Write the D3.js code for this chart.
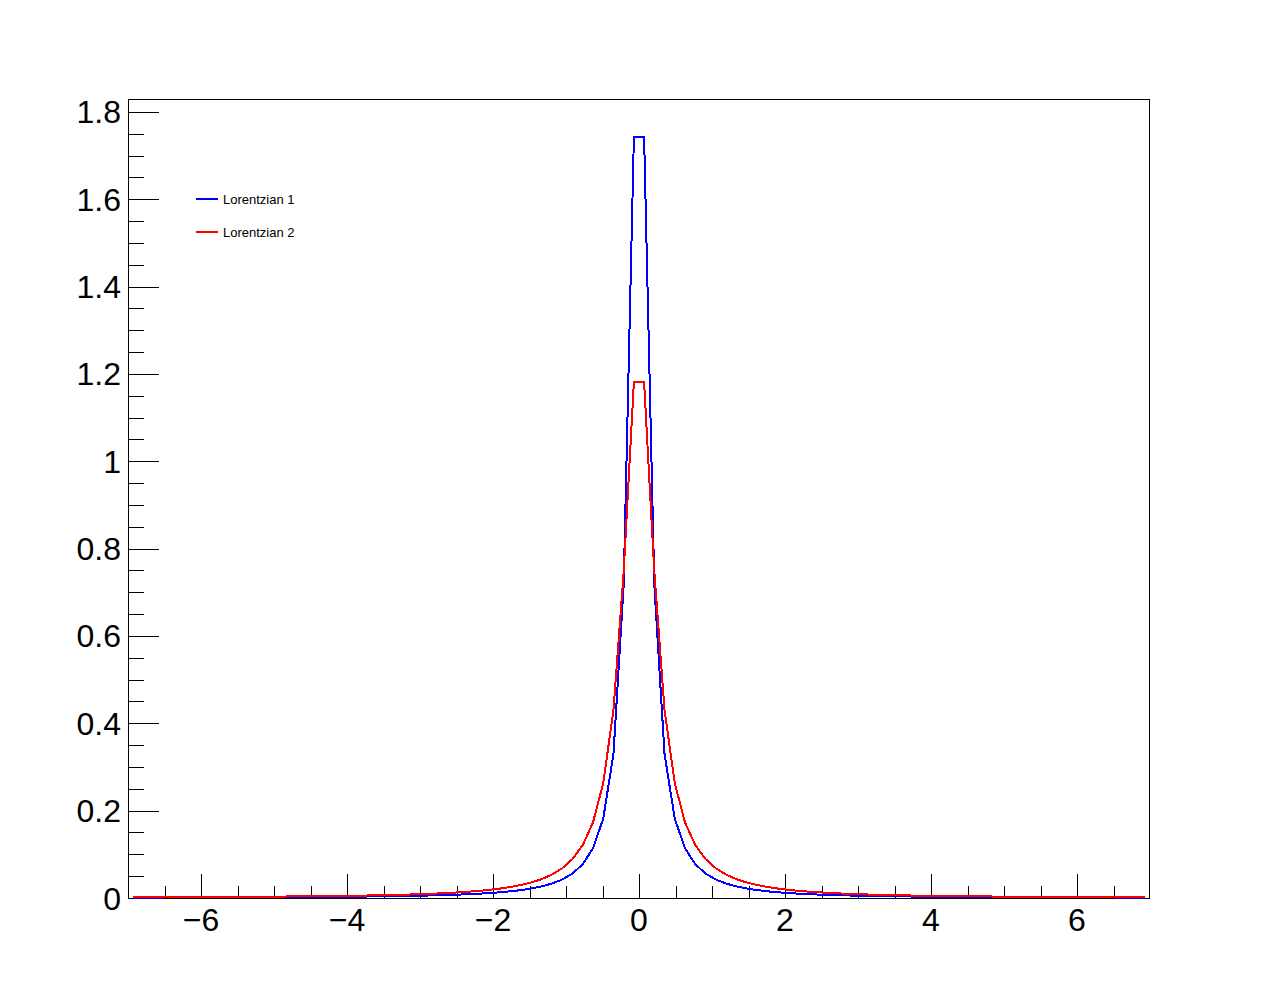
<!DOCTYPE html>
<html>
<head>
<meta charset="utf-8">
<script src="https://cdn.jsdelivr.net/npm/d3@7"></script>
<style>
  html, body { margin: 0; padding: 0; background: #fff; }
  svg { display: block; }
  text { font-family: "Liberation Sans", Arial, Helvetica, sans-serif; fill: #000; }
</style>
</head>
<body>
<script>
// ---- data ----
const xValues = [
  -6.93,-6.79,-6.65,-6.51,-6.37,-6.23,-6.09,-5.95,-5.81,-5.67,
  -5.53,-5.39,-5.25,-5.11,-4.97,-4.83,-4.69,-4.55,-4.41,-4.27,
  -4.13,-3.99,-3.85,-3.71,-3.57,-3.43,-3.29,-3.15,-3.01,-2.87,
  -2.73,-2.59,-2.45,-2.31,-2.17,-2.03,-1.89,-1.75,-1.61,-1.47,
  -1.33,-1.19,-1.05,-0.91,-0.77,-0.63,-0.49,-0.35,-0.21,-0.07,
  0.07,0.21,0.35,0.49,0.63,0.77,0.91,1.05,1.19,1.33,
  1.47,1.61,1.75,1.89,2.03,2.17,2.31,2.45,2.59,2.73,
  2.87,3.01,3.15,3.29,3.43,3.57,3.71,3.85,3.99,4.13,
  4.27,4.41,4.55,4.69,4.83,4.97,5.11,5.25,5.39,5.53,
  5.67,5.81,5.95,6.09,6.23,6.37,6.51,6.65,6.79,6.93
];
const lorentzian1 = [
  0.00099,0.00104,0.00108,0.00113,0.00118,0.00123,0.00129,0.00135,0.00141,0.00148,
  0.00156,0.00164,0.00173,0.00183,0.00193,0.00204,0.00217,0.00230,0.00245,0.00262,
  0.00280,0.00299,0.00322,0.00346,0.00374,0.00405,0.00440,0.00480,0.00526,0.00578,
  0.00639,0.00709,0.00792,0.00891,0.01009,0.01152,0.01328,0.01548,0.01826,0.02187,
  0.02665,0.0332,0.0424,0.0561,0.0776,0.1138,0.1818,0.3293,0.7169,1.7426,
  1.7426,0.7169,0.3293,0.1818,0.1138,0.0776,0.0561,0.0424,0.0332,0.02665,
  0.02187,0.01826,0.01548,0.01328,0.01152,0.01009,0.00891,0.00792,0.00709,0.00639,
  0.00578,0.00526,0.00480,0.00440,0.00405,0.00374,0.00346,0.00322,0.00299,0.00280,
  0.00262,0.00245,0.00230,0.00217,0.00204,0.00193,0.00183,0.00173,0.00164,0.00156,
  0.00148,0.00141,0.00135,0.00129,0.00123,0.00118,0.00113,0.00108,0.00104,0.00099
];
const lorentzian2 = [
  0.00165,0.00172,0.00180,0.00187,0.00196,0.00205,0.00214,0.00224,0.00235,0.00247,
  0.00260,0.00273,0.00288,0.00304,0.00321,0.00340,0.00361,0.00383,0.00408,0.00435,
  0.00465,0.00498,0.00535,0.00576,0.00621,0.00673,0.00731,0.00797,0.00872,0.00959,
  0.01059,0.01175,0.01312,0.01474,0.01668,0.01902,0.02189,0.02546,0.02998,0.03579,
  0.04345,0.0538,0.0683,0.0894,0.1214,0.1732,0.2630,0.4301,0.7465,1.1807,
  1.1807,0.7465,0.4301,0.2630,0.1732,0.1214,0.0894,0.0683,0.0538,0.04345,
  0.03579,0.02998,0.02546,0.02189,0.01902,0.01668,0.01474,0.01312,0.01175,0.01059,
  0.00959,0.00872,0.00797,0.00731,0.00673,0.00621,0.00576,0.00535,0.00498,0.00465,
  0.00435,0.00408,0.00383,0.00361,0.00340,0.00321,0.00304,0.00288,0.00273,0.00260,
  0.00247,0.00235,0.00224,0.00214,0.00205,0.00196,0.00187,0.00180,0.00172,0.00165
];
const seriesNames = ["Lorentzian 1", "Lorentzian 2"];
const seriesColors = ["#0000ff", "#ff0000"];
const xTickValues = [-6, -4, -2, 0, 2, 4, 6];
const xTickLabels = ["\u22126", "\u22124", "\u22122", "0", "2", "4", "6"];
const yTickValues = [0, 0.2, 0.4, 0.6, 0.8, 1, 1.2, 1.4, 1.6, 1.8];
const yTickLabels = ["0", "0.2", "0.4", "0.6", "0.8", "1", "1.2", "1.4", "1.6", "1.8"];
const xDomain = [-7, 7];

(function () {
  // ---- layout ----
  const W = 1278, H = 998;
  const fLeft = 128, fRight = 1150, fTop = 99, fBottom = 898;

  const svg = d3.select("body").append("svg").attr("width", W).attr("height", H);

  const yMax = d3.max(lorentzian1.concat(lorentzian2)) * 1.05;
  const x = d3.scaleLinear().domain(xDomain).range([fLeft, fRight]);
  const y = d3.scaleLinear().domain([0, yMax]).range([fBottom, fTop]);

  // frame
  svg.append("rect")
    .attr("x", fLeft + 0.5).attr("y", fTop + 0.5)
    .attr("width", fRight - fLeft - 1).attr("height", fBottom - fTop)
    .attr("fill", "none").attr("stroke", "#000").attr("stroke-width", 1)
    .attr("shape-rendering", "crispEdges");

  // x axis ticks
  const xMinor = d3.range(-13, 14).map(d => d * 0.5)
    .filter(d => d > -7 && d < 7 && Math.abs(d % 2) > 1e-9);
  const xAxis = svg.append("g").attr("shape-rendering", "crispEdges");
  xAxis.selectAll("line.maj").data(xTickValues).join("line").attr("class", "maj")
    .attr("x1", d => Math.round(x(d)) + 0.5).attr("x2", d => Math.round(x(d)) + 0.5)
    .attr("y1", fBottom).attr("y2", fBottom - 24)
    .attr("stroke", "#000");
  xAxis.selectAll("line.min").data(xMinor).join("line").attr("class", "min")
    .attr("x1", d => Math.round(x(d)) + 0.5).attr("x2", d => Math.round(x(d)) + 0.5)
    .attr("y1", fBottom).attr("y2", fBottom - 12)
    .attr("stroke", "#000");
  svg.append("g").selectAll("text").data(xTickValues).join("text")
    .attr("x", d => x(d)).attr("y", fBottom + 33)
    .attr("text-anchor", "middle")
    .attr("font-size", 32)
    .text((d, i) => xTickLabels[i]);

  // y axis ticks
  const yMinor = d3.range(0, 37).map(d => d * 0.05)
    .filter(d => d <= yMax && Math.abs((d / 0.2) - Math.round(d / 0.2)) > 1e-6);
  const yAxis = svg.append("g").attr("shape-rendering", "crispEdges");
  yAxis.selectAll("line.maj").data(yTickValues).join("line").attr("class", "maj")
    .attr("y1", d => Math.round(y(d)) + 0.5).attr("y2", d => Math.round(y(d)) + 0.5)
    .attr("x1", fLeft).attr("x2", fLeft + 31)
    .attr("stroke", "#000");
  yAxis.selectAll("line.min").data(yMinor).join("line").attr("class", "min")
    .attr("y1", d => Math.round(y(d)) + 0.5).attr("y2", d => Math.round(y(d)) + 0.5)
    .attr("x1", fLeft).attr("x2", fLeft + 16)
    .attr("stroke", "#000");
  svg.append("g").selectAll("text").data(yTickValues).join("text")
    .attr("x", fLeft - 7).attr("y", d => y(d) + 11.5)
    .attr("text-anchor", "end")
    .attr("font-size", 32)
    .text((d, i) => yTickLabels[i]);

  // curves
  const line = d3.line().x(d => x(d[0])).y(d => y(d[1]));
  [lorentzian1, lorentzian2].forEach((vals, si) => {
    svg.append("path")
      .datum(xValues.map((xv, i) => [xv, vals[i]]))
      .attr("d", line)
      .attr("fill", "none")
      .attr("stroke", seriesColors[si])
      .attr("stroke-width", 2)
      .attr("stroke-linejoin", "miter")
      .attr("shape-rendering", "crispEdges");
  });

  // legend
  const legend = svg.append("g");
  seriesNames.forEach((name, i) => {
    const ly = 199 + i * 33;
    legend.append("line")
      .attr("x1", 196).attr("x2", 218).attr("y1", ly).attr("y2", ly)
      .attr("stroke", seriesColors[i]).attr("stroke-width", 2)
      .attr("shape-rendering", "crispEdges");
    legend.append("text")
      .attr("x", 223).attr("y", ly + 4.5)
      .attr("font-size", 13)
      .text(name);
  });
})();
</script>
</body>
</html>
